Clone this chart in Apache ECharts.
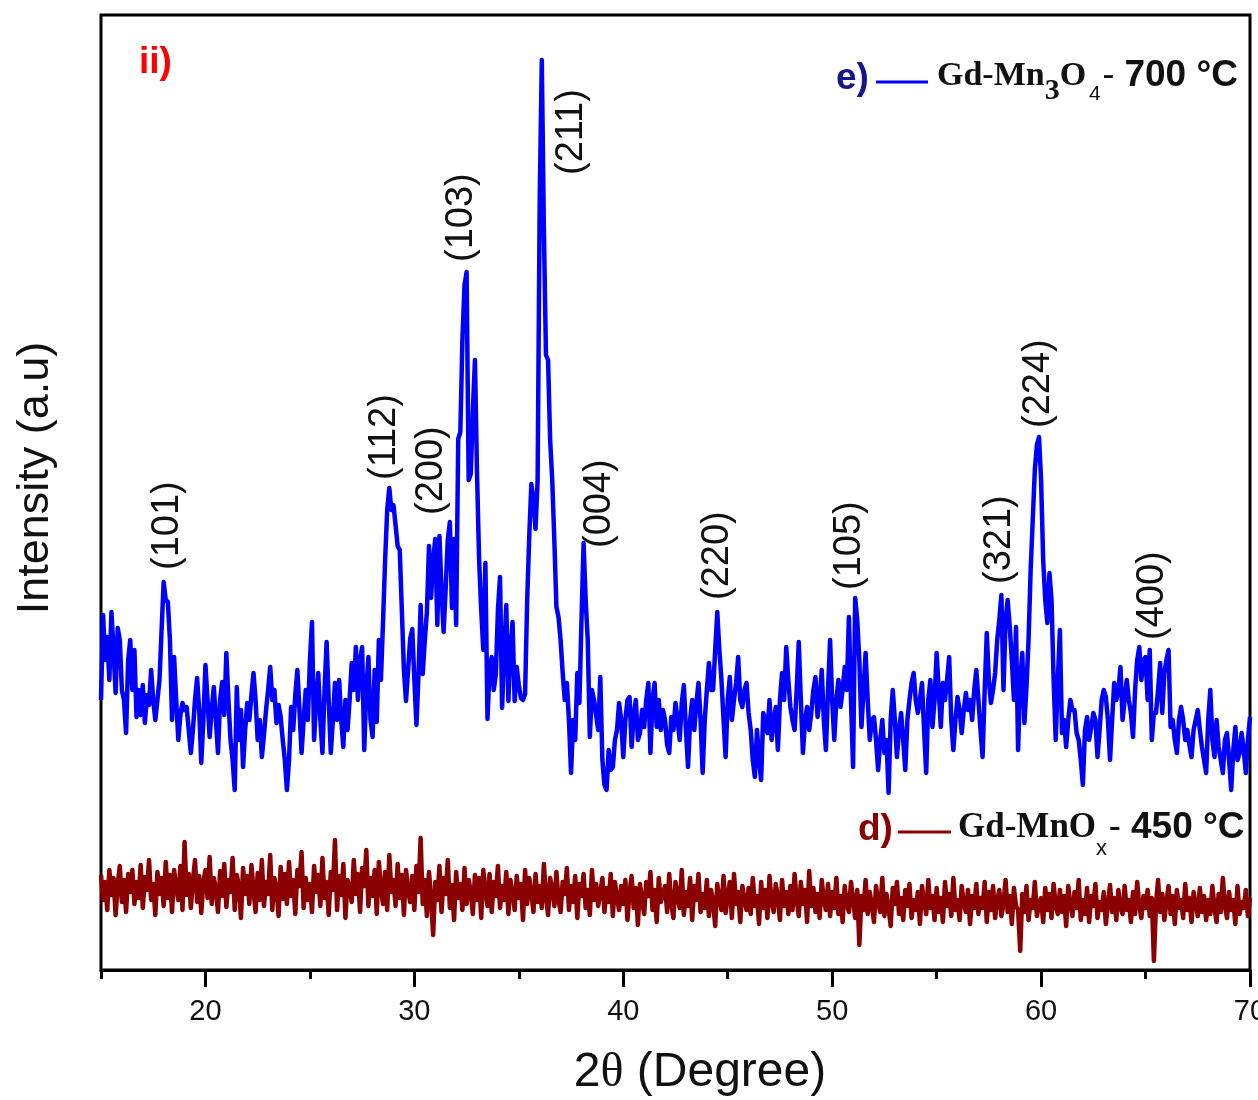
<!DOCTYPE html>
<html>
<head>
<meta charset="utf-8">
<script src="https://cdn.jsdelivr.net/npm/echarts@6/dist/echarts.min.js"></script>
<style>
  html, body { margin: 0; padding: 0; background: #fff; }
  #chart { width: 1258px; height: 1100px; }
</style>
</head>
<body>
<div id="chart"></div>
<script>
// XRD scan grid (degrees 2θ): 15.0 → 70.0 at 0.1° steps
const scanStart = 15.0;
const scanStep = 0.1;

// e) Gd-Mn3O4 annealed at 700 °C — intensity (a.u.), one row per degree
const intensity700 = [
  270,355,310,333,290,358,320,277,342,330,
  280,270,237,310,330,280,320,253,280,255,
  285,247,275,265,300,270,250,270,290,340,
  388,370,368,330,250,313,270,230,255,267,
  260,263,240,217,240,270,292,260,207,250,
  305,270,233,260,283,250,217,270,288,255,
  317,270,230,210,180,283,230,260,203,240,
  267,250,275,297,270,230,250,213,235,260,
  280,303,270,280,247,265,253,230,210,180,
  210,263,240,275,300,260,217,250,280,250,
  310,348,230,270,297,250,217,280,328,270,
  217,250,287,250,290,250,223,270,240,270,
  307,280,323,270,310,323,220,280,313,250,
  233,300,248,330,290,348,410,460,482,460,
  465,445,424,420,360,300,269,300,331,341,
  290,245,296,365,296,330,358,424,372,410,
  431,345,434,380,338,382,430,448,362,431,
  345,531,538,630,685,698,490,496,560,610,
  496,410,360,320,407,251,300,313,280,296,
  360,393,262,320,365,269,320,348,269,303,
  285,272,270,276,370,434,486,470,441,490,
  770,910,740,615,610,530,490,430,363,353,
  330,297,270,287,250,197,250,230,297,267,
  350,427,370,330,233,280,270,255,240,293,
  210,185,180,220,200,203,230,240,267,250,
  213,250,270,273,223,255,270,230,237,260,
  243,270,287,217,270,287,243,270,240,260,
  250,225,217,253,240,267,250,230,267,285,
  240,203,250,270,240,267,287,250,197,250,
  280,307,280,280,320,358,320,290,250,213,
  270,293,250,270,287,313,270,263,280,287,
  257,240,210,193,240,210,190,257,250,237,
  270,230,250,263,220,270,297,270,323,290,
  263,250,240,280,328,270,217,250,263,240,
  257,280,293,253,270,300,250,220,280,330,
  270,230,270,290,263,280,303,280,353,270,
  203,372,350,310,243,280,317,270,230,250,
  253,230,200,230,250,217,230,177,250,280,
  250,213,240,257,230,200,250,270,287,297,
  270,257,270,287,240,197,270,290,243,270,
  317,280,243,287,270,290,313,250,220,250,
  273,260,237,260,277,260,270,250,280,300,
  270,240,213,280,337,290,267,280,297,330,
  350,375,280,350,370,343,310,270,343,220,
  290,317,247,283,330,400,450,500,525,533,
  490,410,370,347,397,370,290,230,290,340,
  237,250,223,250,270,260,260,237,230,210,
  185,240,253,230,243,257,250,213,240,270,
  280,273,250,210,250,287,270,280,303,250,
  270,290,270,257,233,280,310,323,290,310,
  313,270,320,230,257,257,280,307,257,297,
  310,320,243,250,230,217,250,263,250,230,
  240,225,213,240,250,260,240,223,210,197,
  250,280,230,213,250,223,210,197,230,237,
  210,180,220,243,210,217,237,220,197,230,
  253
];

// d) Gd-MnOx annealed at 450 °C — intensity (a.u.), one row per degree
const intensity450 = [
  95,70,88,60,100,75,92,55,85,104,
  68,90,58,96,78,100,66,88,72,105,
  62,93,80,110,70,86,55,98,76,92,
  64,108,72,95,58,100,82,70,104,60,
  128,75,96,62,90,110,68,94,57,88,
  100,72,113,66,92,80,58,99,74,106,
  63,90,78,112,60,95,84,52,102,76,
  94,66,105,80,58,97,70,110,64,88,
  76,115,60,92,82,54,103,71,96,66,
  108,74,90,56,100,84,118,62,92,70,
  86,58,104,78,95,64,112,72,88,55,
  98,80,130,60,94,75,106,52,90,82,
  68,110,76,96,58,102,84,120,64,92,
  74,100,56,108,82,66,98,60,115,78,
  90,64,106,72,95,55,100,80,68,94,
  60,104,78,132,66,90,54,98,72,35,
  88,70,104,58,92,76,110,62,85,50,
  98,72,86,60,102,66,90,78,56,95,
  70,92,52,100,80,64,96,58,88,74,
  104,62,84,70,98,56,90,76,60,94,
  72,86,50,100,66,92,78,58,96,68,
  84,62,106,74,55,92,80,64,98,70,
  58,88,76,102,60,84,68,94,52,86,
  74,96,62,80,55,100,70,86,64,78,
  92,58,82,68,96,54,88,72,60,84,
  66,90,50,78,94,62,82,45,86,70,
  56,88,74,98,60,80,48,92,68,76,
  84,58,96,66,52,88,74,62,100,55,
  78,64,92,50,84,70,96,58,76,62,
  90,54,80,68,44,86,72,60,94,57,
  74,88,52,96,66,78,48,84,70,60,
  82,56,92,64,74,46,88,62,80,52,
  94,68,58,86,72,50,90,64,78,56,
  84,60,96,70,54,88,66,80,48,99,
  64,82,58,76,52,90,70,60,86,54,
  78,62,92,56,74,48,84,66,58,88,
  70,52,80,25,74,60,90,56,78,64,
  48,84,68,58,92,54,76,62,44,82,
  66,88,56,72,50,80,64,86,52,70,
  60,78,46,84,68,56,90,62,74,50,
  82,58,72,48,88,64,76,54,92,60,
  70,50,84,66,58,80,46,74,62,86,
  56,72,62,88,48,78,60,84,52,70,
  80,54,66,90,58,74,46,82,64,60,
  19,76,58,84,50,70,62,88,54,66,
  72,48,82,60,76,52,86,64,56,80,
  58,74,44,84,66,54,78,62,90,50,
  70,56,82,48,74,64,86,52,68,60,
  78,46,66,85,58,72,50,80,62,56,
  84,60,70,48,78,56,88,64,52,74,
  62,80,54,72,9,66,90,58,76,50,
  68,84,56,74,46,80,62,70,52,86,
  60,72,48,78,66,54,82,58,74,50,
  70,56,84,62,48,76,58,92,64,52,
  78,60,70,46,84,56,68,62,80,54,
  72
];

// Miller indices of the indexed reflections and where each tag starts (2θ, a.u.)
const hklNames     = ['(101)', '(112)', '(200)', '(103)', '(211)', '(004)', '(220)', '(105)', '(321)', '(224)', '(400)'];
const hklTwoTheta  = [18.18, 28.56, 30.81, 32.25, 37.51, 38.85, 44.50, 50.81, 57.99, 59.90, 65.31];
const hklIntensity = [400, 490, 455, 708, 795, 422, 370, 380, 386, 542, 330];

// Labelled x-axis ticks
const majorTicks = [20, 30, 40, 50, 60, 70];

const SANS = "Arial, 'Liberation Sans', sans-serif";
const SERIF = "'Times New Roman', 'Liberation Serif', serif";

function toPoints(values) {
  return values.map((v, i) => [Math.round((scanStart + i * scanStep) * 10) / 10, v]);
}

// Lays out a run of text pieces left to right (used for chemical formulas
// with subscripts); each piece may be shifted down by dy.
const measureCtx = document.createElement('canvas').getContext('2d');
function textRun(x, yMid, pieces) {
  let cx = x;
  return pieces.map(p => {
    const weight = p.weight || 'normal';
    measureCtx.font = `${weight} ${p.size}px ${p.family}`;
    const w = measureCtx.measureText(p.text).width;
    const el = {
      type: 'text', x: cx, y: yMid + (p.dy || 0), silent: true,
      style: {
        text: p.text, fontSize: p.size, fontFamily: p.family, fontWeight: weight,
        fill: p.color || '#111', align: 'left', verticalAlign: 'middle'
      }
    };
    cx += w + (p.gap || 0);
    return el;
  });
}

const chart = echarts.init(document.getElementById('chart'), null, { renderer: 'canvas' });

const option = {
  animation: false,
  backgroundColor: '#ffffff',
  grid: {
    left: 101, right: 8, top: 15, bottom: 130,
    show: true, borderColor: '#000', borderWidth: 3, backgroundColor: 'transparent',
    outerBoundsMode: 'none'
  },
  xAxis: [
    {
      type: 'value', min: 15, max: 70, interval: 5, position: 'bottom',
      axisLine: { show: true, onZero: false, lineStyle: { color: '#000', width: 3 } },
      axisTick: { show: true, length: 9, lineStyle: { color: '#000', width: 3 } },
      axisLabel: { show: false },
      splitLine: { show: false }
    },
    {
      type: 'value', min: 15, max: 70, interval: 5, position: 'bottom',
      axisLine: { show: false, onZero: false },
      axisTick: { show: true, length: 17, customValues: majorTicks, lineStyle: { color: '#000', width: 3 } },
      axisLabel: { show: true, customValues: majorTicks, fontSize: 29, color: '#111', fontFamily: SANS, margin: 27 },
      splitLine: { show: false }
    }
  ],
  yAxis: { type: 'value', min: 0, max: 955, show: false },
  series: [
    {
      name: 'Gd-MnOx 450 °C', type: 'line', xAxisIndex: 0,
      data: toPoints(intensity450), showSymbol: false, symbol: 'none',
      lineStyle: { color: '#8b0000', width: 4.5, join: 'round' },
      silent: true, z: 2
    },
    {
      name: 'Gd-Mn3O4 700 °C', type: 'line', xAxisIndex: 0,
      data: toPoints(intensity700), showSymbol: false, symbol: 'none',
      lineStyle: { color: '#0000ff', width: 4.5, join: 'round' },
      silent: true, z: 3
    },
    {
      name: 'hkl', type: 'scatter', xAxisIndex: 0,
      data: hklNames.map((n, i) => ({ name: n, value: [hklTwoTheta[i], hklIntensity[i]] })),
      symbolSize: 0, silent: true, z: 4,
      itemStyle: { opacity: 1 },
      label: {
        show: true, formatter: p => p.name, position: [0, 0],
        rotate: 90, align: 'left', verticalAlign: 'middle',
        fontSize: 38, fontFamily: SANS, color: '#111', opacity: 1,
        textBorderWidth: 0, textShadowBlur: 0
      }
    }
  ],
  graphic: [
    { type: 'text', left: 139, top: 44, style: { text: 'ii)', fontSize: 37, fontWeight: 'bold', fontFamily: SANS, fill: '#ff0000' } },

    { type: 'text', x: 836, y: 79, style: { text: 'e)', fontSize: 37, fontWeight: 'bold', fontFamily: SANS, fill: '#15158f', align: 'left', verticalAlign: 'middle' } },
    { type: 'line', shape: { x1: 876, y1: 82, x2: 928, y2: 82 }, style: { stroke: '#0000ff', lineWidth: 3 } },
    ...textRun(937, 76, [
      { text: 'Gd-Mn', size: 34, family: SERIF, weight: 'bold' },
      { text: '3', size: 30, family: SERIF, weight: 'bold', dy: 15 },
      { text: 'O', size: 34, family: SERIF, weight: 'bold', gap: 3 },
      { text: '4', size: 21, family: SANS, dy: 18, gap: 2 },
      { text: '-', size: 34, family: SERIF, weight: 'bold' },
      { text: ' 700 °C', size: 37, family: SANS, weight: 'bold' }
    ]),

    { type: 'text', x: 858, y: 830, style: { text: 'd)', fontSize: 37, fontWeight: 'bold', fontFamily: SANS, fill: '#8b0000', align: 'left', verticalAlign: 'middle' } },
    { type: 'line', shape: { x1: 898, y1: 832, x2: 951, y2: 832 }, style: { stroke: '#8b0000', lineWidth: 3 } },
    ...textRun(958, 828, [
      { text: 'Gd-MnO', size: 35, family: SERIF, weight: 'bold' },
      { text: 'x', size: 22, family: SANS, dy: 21, gap: 2 },
      { text: '-', size: 35, family: SERIF, weight: 'bold' },
      { text: ' 450 °C', size: 37, family: SANS, weight: 'bold' }
    ]),

    {
      type: 'text', x: 700, y: 1073,
      style: {
        text: '{n|2}{t|θ}{n| (Degree)}', align: 'center', verticalAlign: 'middle',
        rich: {
          n: { fontFamily: SANS, fontSize: 48, fill: '#111' },
          t: { fontFamily: SERIF, fontSize: 48, fill: '#111' }
        }
      }
    },
    {
      type: 'text', x: 36, y: 478, rotation: Math.PI / 2,
      style: { text: 'Intensity (a.u)', align: 'center', verticalAlign: 'middle', fontFamily: SANS, fontSize: 45, fill: '#111' }
    }
  ]
};

chart.setOption(option);
</script>
</body>
</html>
